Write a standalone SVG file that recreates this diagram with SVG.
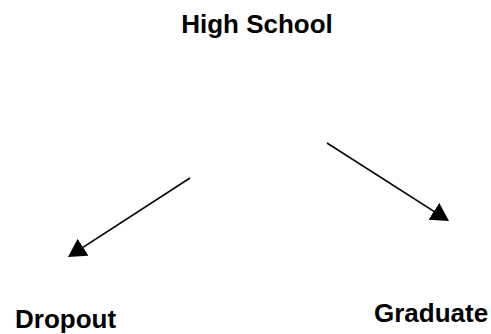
<svg xmlns="http://www.w3.org/2000/svg" width="491" height="334" viewBox="0 0 491 334">
<style>
.lbl{font-family:"Liberation Sans",Arial,sans-serif;font-weight:bold;font-size:26px;fill:#000}
.edge{stroke:#000;stroke-width:1.6;fill:none}
</style>
<defs>
<marker id="ah" markerUnits="userSpaceOnUse" markerWidth="20" markerHeight="20" refX="8" refY="10" orient="auto">
<path d="M0,0 L18,10 L0,20 z" fill="#000"/>
</marker>
</defs>
<rect width="491" height="334" fill="#fff"/>
<g id="high-school"><text class="lbl" x="257" y="33" text-anchor="middle">High School</text></g>
<g id="dropout"><text class="lbl" x="15" y="328">Dropout</text></g>
<g id="graduate"><text class="lbl" x="374" y="322">Graduate</text></g>
<g id="connectors">
<line class="edge" x1="190" y1="178" x2="76.4" y2="251.6" marker-end="url(#ah)"/>
<line class="edge" x1="327" y1="143" x2="440.6" y2="215.6" marker-end="url(#ah)"/>
</g>
</svg>
